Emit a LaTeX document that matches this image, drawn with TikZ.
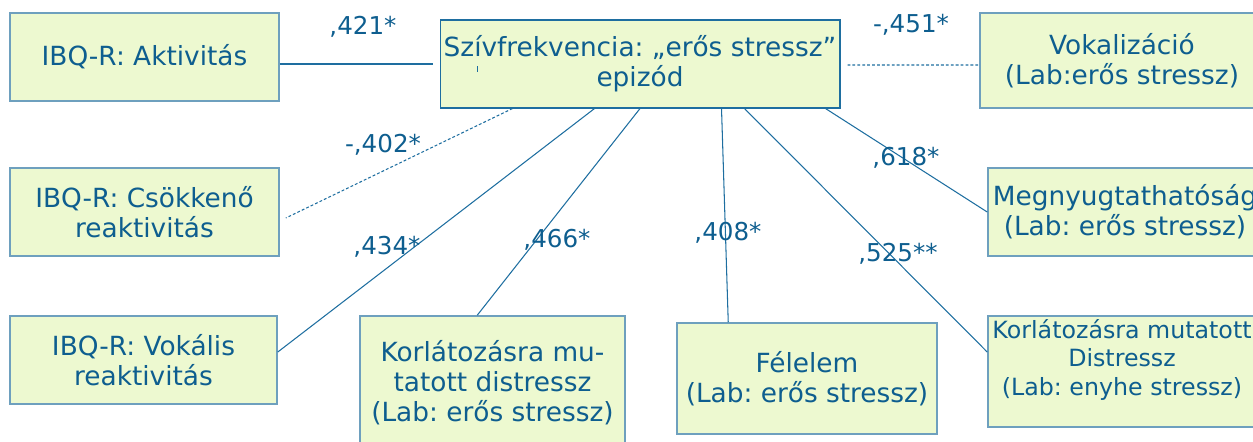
\documentclass[tikz,border=0pt]{standalone}
\usepackage{fontspec}
\setmainfont{DejaVu Sans}
\frenchspacing
\usetikzlibrary{calc}
\definecolor{txtblue}{RGB}{14,94,143}
\definecolor{boxfill}{RGB}{237,249,208}
\definecolor{boxline}{RGB}{110,160,190}
\definecolor{edgeblue}{RGB}{30,110,160}
\begin{document}
\begin{tikzpicture}[x=0.02cm,y=-0.02cm,
	doboz/.style={draw=boxline,line width=0.9pt,fill=boxfill,text=txtblue,align=center,inner sep=2pt,font=\fontsize{15}{17}\selectfont},
	kapcs/.style={draw=edgeblue,line width=0.6pt},
	negkapcs/.style={kapcs,dash pattern=on 1.6pt off 1.2pt},
	ertek/.style={text=txtblue,font=\fontsize{14}{16}\selectfont,inner sep=0pt}]
	\useasboundingbox (0,0) rectangle (1253,441);
	% dobozok
	\node[doboz,minimum width=5.38cm,minimum height=1.76cm] (akt) at (144.5,57) {IBQ-R: Aktivitás};
	\node[doboz,draw=edgeblue,line width=0.6pt,minimum width=8cm,minimum height=1.76cm] (hr) at (640,64) {Szívfrekvencia: „erős stressz”\\epizód};
	\node[doboz,minimum width=5.68cm,minimum height=1.9cm] (vok) at (1122,60.5) {Vokalizáció\\(Lab:erős stressz)};
	\node[doboz,minimum width=5.38cm,minimum height=1.76cm] (csok) at (144.5,212) {IBQ-R: Csökkenő\\reaktivitás};
	\node[doboz,minimum width=5.48cm,minimum height=1.76cm] (meg) at (1125,212) {Megnyugtathatóság\\(Lab: erős stressz)};
	\node[doboz,minimum width=5.34cm,minimum height=1.76cm] (vokr) at (143.5,360) {IBQ-R: Vokális\\reaktivitás};
	\node[doboz,minimum width=5.3cm,minimum height=2.68cm] (kor) at (492.5,383) {Korlátozásra mu-\\tatott distressz\\(Lab: erős stressz)};
	\node[doboz,minimum width=5.2cm,minimum height=2.22cm] (fel) at (807,378.5) {Félelem\\(Lab: erős stressz)};
	\node[doboz,font=\fontsize{13.5}{16}\selectfont,minimum width=5.36cm,minimum height=2.22cm] (kor2) at (1122,371.5) {Korlátozásra mutatott\\Distressz\\(Lab: enyhe stressz)\\\mbox{}};
	\draw[edgeblue,line width=0.5pt] (477,66)--(477,72);
	% kapcsolatok
	\draw[kapcs] (akt.east |- hr.west)--($(hr.west)+(-7,0)$);
	\draw[negkapcs] ($(hr.east)+(7,1)$)--($(vok.west)+(0,4.5)$);
	\draw[negkapcs] ($(hr.south west)+(73,0)$)--($(csok.east)+(6,6)$);
	\draw[kapcs] ($(hr.south west)+(155,0)$)--($(vokr.east)+(0,-8)$);
	\draw[kapcs] (hr.south)--($(kor.north west)+(118,0)$);
	\draw[kapcs] ($(hr.south west)+(282,0)$)--($(fel.north west)+(52,0)$);
	\draw[kapcs] ($(hr.south west)+(305,0)$)--($(kor2.west)+(0,-19.5)$);
	\draw[kapcs] ($(hr.south west)+(386,0)$)--(meg.west);
	% ertekek
	\node[ertek] (e1) at (363,27) {,421*};
	\node[ertek] (e2) at (911,25) {-,451*};
	\node[ertek] (e3) at (383,145) {-,402*};
	\node[ertek] (e4) at (906,158) {,618*};
	\node[ertek] (e5) at (387,247) {,434*};
	\node[ertek] (e6) at (557,240) {,466*};
	\node[ertek] (e7) at (728,233) {,408*};
	\node[ertek] (e8) at (898,254) {,525**};
	%\node at (626,430) {};
\end{tikzpicture}
\end{document}
